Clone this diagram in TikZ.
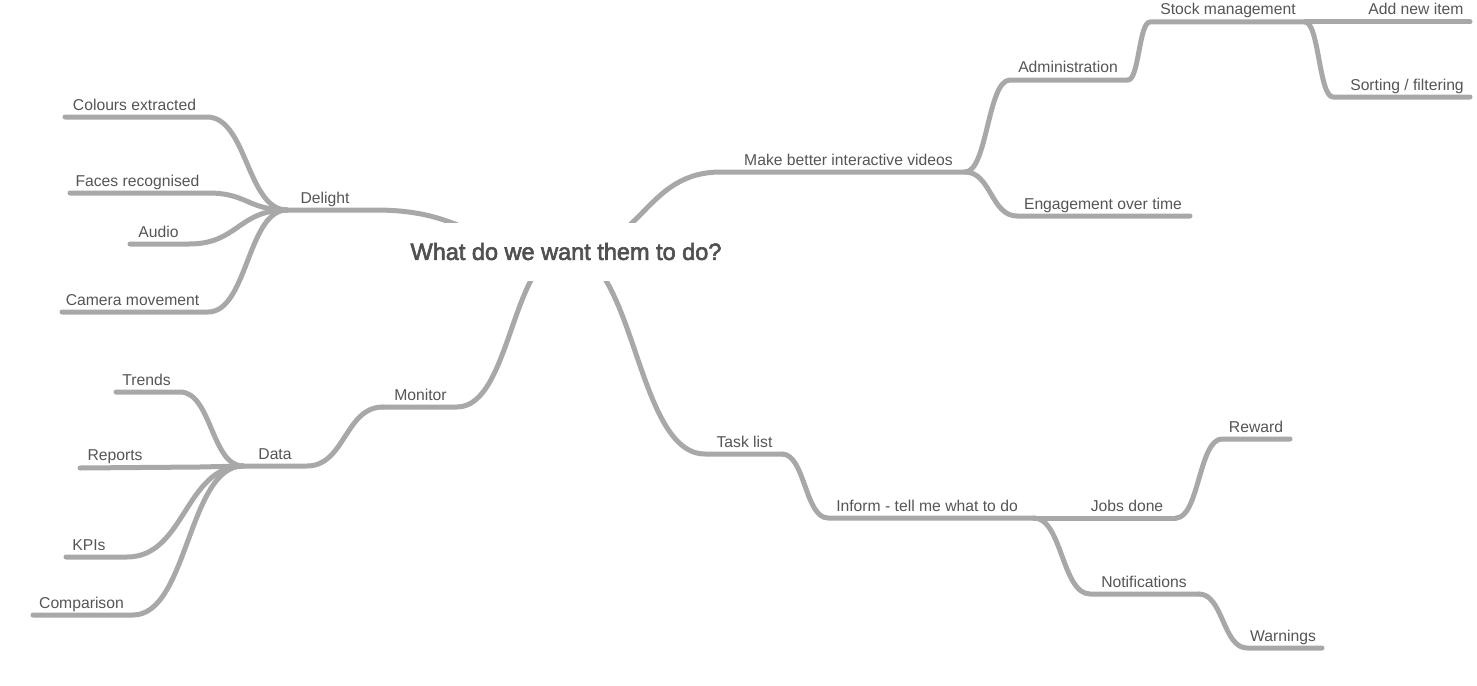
\documentclass[tikz,border=0pt]{standalone}
\usepackage{fontspec}
\setmainfont{Liberation Sans}
\newfontfamily\titlefont[FakeBold=2.6]{Liberation Sans}
\usetikzlibrary{calc}
\definecolor{linegray}{HTML}{A8A8A8}
\definecolor{txtgray}{HTML}{555555}
\definecolor{titlegray}{HTML}{505050}
\begin{document}
\begin{tikzpicture}[x=1pt,y=-1pt,
  ln/.style={draw=linegray,line width=5pt,line cap=round,line join=round},
  lbl/.style={text=txtgray,font=\fontsize{15.7}{18}\selectfont,anchor=base,inner sep=0pt},
  mmcurve/.style={to path={let \p1=(\tikztostart), \p2=(\tikztotarget) in
      .. controls ({(\x1+\x2)/2},\y1) and ({(\x1+\x2)/2},\y2) .. (\tikztotarget)}}]
\useasboundingbox (0,0) rectangle (1477,685);

% junction / line-end coordinates
\coordinate (rc) at (566,251);
\coordinate (mb-s) at (721,172); \coordinate (mb-e) at (965,172);
\coordinate (ad-s) at (1010,80); \coordinate (ad-e) at (1128,80);
\coordinate (sm-s) at (1150,22); \coordinate (sm-e) at (1305,22);
\coordinate (an-e) at (1470,22);
\coordinate (sf-s) at (1333,97); \coordinate (sf-e) at (1470,97);
\coordinate (eo-s) at (1017,216); \coordinate (eo-e) at (1190,216);
\coordinate (tl-s) at (705,454); \coordinate (tl-e) at (782,454);
\coordinate (if-s) at (828,518); \coordinate (if-e) at (1034,518);
\coordinate (jd-e) at (1176,518);
\coordinate (rw-s) at (1222,439); \coordinate (rw-e) at (1290,439);
\coordinate (nt-s) at (1090,594); \coordinate (nt-e) at (1199,594);
\coordinate (wn-s) at (1247,648); \coordinate (wn-e) at (1322,648);
\coordinate (dl-s) at (375,210); \coordinate (dl-e) at (287,210);
\coordinate (ce-s) at (207,117); \coordinate (ce-e) at (65,117);
\coordinate (fr-s) at (208,193); \coordinate (fr-e) at (70,193);
\coordinate (au-s) at (189,244); \coordinate (au-e) at (130,244);
\coordinate (cm-s) at (208,312); \coordinate (cm-e) at (62,312);
\coordinate (mo-s) at (457,407); \coordinate (mo-e) at (383,407);
\coordinate (da-s) at (307,466); \coordinate (da-e) at (243,466);
\coordinate (tr-s) at (180,392); \coordinate (tr-e) at (116,392);
\coordinate (rp-s) at (200,467); \coordinate (rp-e) at (80,468);
\coordinate (kp-s) at (127,557); \coordinate (kp-e) at (66,557);
\coordinate (cp-s) at (133,615); \coordinate (cp-e) at (33,615);

% right upper branch
\draw[ln,mmcurve] (rc) to (mb-s) -- (mb-e);
\draw[ln,mmcurve] (mb-e) to (ad-s) -- (ad-e);
\draw[ln,mmcurve] (ad-e) to (sm-s) -- (sm-e);
\draw[ln] (sm-e) -- (an-e);
\draw[ln,mmcurve] (sm-e) to (sf-s) -- (sf-e);
\draw[ln,mmcurve] (mb-e) to (eo-s) -- (eo-e);
% right lower branch
\draw[ln,mmcurve] (rc) to (tl-s) -- (tl-e);
\draw[ln,mmcurve] (tl-e) to (if-s) -- (if-e);
\draw[ln] (if-e) -- (jd-e);
\draw[ln,mmcurve] (jd-e) to (rw-s) -- (rw-e);
\draw[ln,mmcurve] (if-e) to (nt-s) -- (nt-e);
\draw[ln,mmcurve] (nt-e) to (wn-s) -- (wn-e);
% left upper branch
\draw[ln,mmcurve] (rc) to (dl-s) -- (dl-e);
\draw[ln,mmcurve] (dl-e) to (ce-s) -- (ce-e);
\draw[ln,mmcurve] (dl-e) to (fr-s) -- (fr-e);
\draw[ln,mmcurve] (dl-e) to (au-s) -- (au-e);
\draw[ln,mmcurve] (dl-e) to (cm-s) -- (cm-e);
% left lower branch
\draw[ln,mmcurve] (rc) to (mo-s) -- (mo-e);
\draw[ln,mmcurve] (mo-e) to (da-s) -- (da-e);
\draw[ln,mmcurve] (da-e) to (tr-s) -- (tr-e);
\draw[ln,mmcurve] (da-e) to (rp-s) -- (rp-e);
\draw[ln,mmcurve] (da-e) to (kp-s) -- (kp-e);
\draw[ln,mmcurve] (da-e) to (cp-s) -- (cp-e);

% root
\node[fill=white,minimum width=330pt,minimum height=58pt,inner sep=0pt,
      text=titlegray,font=\titlefont\fontsize{23.5}{27}\selectfont]
      (root) at (566,251.5) {What do we want them to do?};

% labels
\node[lbl] (l-mb) at (848.5,165) {Make better interactive videos};
\node[lbl] (l-ad) at (1068,73) {Administration};
\node[lbl] (l-sm) at (1228,15) {Stock management};
\node[lbl] (l-an) at (1416,15) {Add new item};
\node[lbl] (l-sf) at (1407,90) {Sorting / filtering};
\node[lbl] (l-eo) at (1103,209) {Engagement over time};
\node[lbl] (l-tl) at (744.5,447) {Task list};
\node[lbl] (l-if) at (927,511) {Inform - tell me what to do};
\node[lbl] (l-jd) at (1127,511) {Jobs done};
\node[lbl] (l-rw) at (1256,432) {Reward};
\node[lbl] (l-nt) at (1144,587) {Notifications};
\node[lbl] (l-wn) at (1283,641) {Warnings};
\node[lbl] (l-dl) at (325,203) {Delight};
\node[lbl] (l-ce) at (134.5,110) {Colours extracted};
\node[lbl] (l-fr) at (137.5,186) {Faces recognised};
\node[lbl] (l-au) at (158.5,237) {Audio};
\node[lbl] (l-cm) at (132.5,305) {Camera movement};
\node[lbl] (l-mo) at (420.5,400) {Monitor};
\node[lbl] (l-da) at (275,459) {Data};
\node[lbl] (l-tr) at (146.5,385) {Trends};
\node[lbl] (l-rp) at (115,460) {Reports};
\node[lbl] (l-kp) at (89,550) {KPIs};
\node[lbl] (l-cp) at (81.5,608) {Comparison};
\end{tikzpicture}
\end{document}
